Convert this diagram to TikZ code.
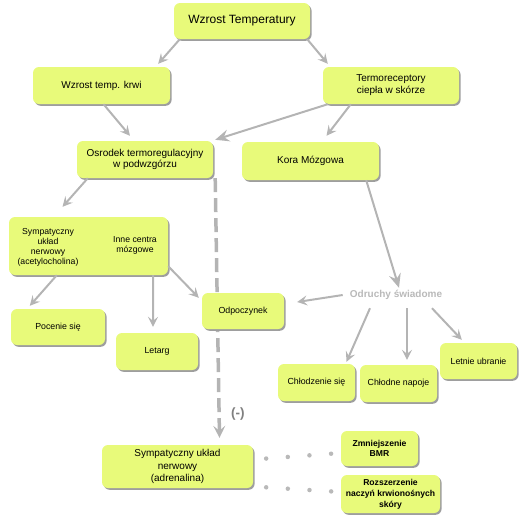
\documentclass[tikz,border=0pt]{standalone}
\usepackage{fontspec}
\setmainfont{Liberation Sans}
\usetikzlibrary{arrows.meta,shadows,backgrounds}
\definecolor{boxfill}{RGB}{232,250,122}
\definecolor{linegray}{RGB}{180,180,180}
\definecolor{textgray}{RGB}{185,185,185}
\newcommand{\fs}[2]{\fontsize{#1}{#2}\selectfont}

\begin{document}
\begin{tikzpicture}[x=1pt,y=-1pt,
  box/.style={fill=boxfill,rounded corners=6pt,align=center,inner sep=2pt,
    drop shadow={shadow xshift=1.6pt,shadow yshift=-1.8pt,fill=black!38,opacity=1}},
  arr/.style={draw=linegray,line width=2pt,-{Stealth[length=10pt,width=10pt,inset=4pt]}},
  bigarr/.style={arr,-{Stealth[length=14pt,width=12pt,inset=5pt]}},
  dotline/.style={draw=textgray,line width=4.5pt,line cap=round,dash pattern=on 0pt off 21.7pt}]
  \useasboundingbox (0,0) rectangle (520,520);
  \node[box,font=\fs{12}{14},minimum width=136pt,minimum height=36pt] (top) at (242,21) {Wzrost Temperatury};
  \node[box,font=\fs{10}{12},minimum width=137pt,minimum height=37pt] (krew) at (101.5,85.5) {Wzrost temp. krwi};
  \node[box,font=\fs{10}{12},minimum width=136pt,minimum height=37pt] (termo) at (391,85.5) {Termoreceptory\\ciepła w skórze};
  \node[box,font=\fs{10}{11.5},minimum width=136pt,minimum height=37pt] (osrodek) at (145,159.5) {Osrodek termoregulacyjny\\w podwzgórzu};
  \node[box,font=\fs{10}{12},minimum width=137pt,minimum height=38pt] (kora) at (310.5,161) {Kora Mózgowa};
  \node[box,minimum width=159pt,minimum height=58pt] (symp) at (88.5,246) {};
  \node[font=\fs{8.7}{10},align=center] (acet) at (48,247) {Sympatyczny\\układ\\nerwowy\\(acetylocholina)};
  \node[font=\fs{8.7}{10},align=center] (inne) at (135,245) {Inne centra\\mózgowe};
  \node[box,font=\fs{8.8}{10},minimum width=94pt,minimum height=36pt] (pocenie) at (58,327) {Pocenie się};
  \node[box,font=\fs{8.8}{10},minimum width=82pt,minimum height=37pt] (letarg) at (157,351.5) {Letarg};
  \node[box,font=\fs{8.8}{10},minimum width=82pt,minimum height=36pt] (odpoczynek) at (243,311) {Odpoczynek};
  \node[font=\bfseries\fs{10}{12},text=textgray,inner sep=0pt,minimum height=12pt] (odr) at (396,295) {Odruchy świadome};
  \node[box,font=\fs{8.8}{10},minimum width=77pt,minimum height=37pt] (chlodzenie) at (316.5,382.5) {Chłodzenie się};
  \node[box,font=\fs{8.8}{10},minimum width=77pt,minimum height=37pt] (napoje) at (398.5,383.5) {Chłodne napoje};
  \node[box,font=\fs{8.8}{10},minimum width=77pt,minimum height=36pt] (letnie) at (478.5,361) {Letnie ubranie};
  \node[box,font=\fs{10}{12.5},minimum width=151pt,minimum height=43pt] (sna) at (177.5,466.5) {Sympatyczny układ\\nerwowy\\(adrenalina)};
  \node[box,font=\bfseries\fs{8.6}{10},minimum width=77pt,minimum height=35pt] (bmr) at (379.5,448.5) {Zmniejszenie\\BMR};
  \node[box,font=\bfseries\fs{8.6}{11},minimum width=99pt,minimum height=38pt] (rozsz) at (390.5,494) {Rozszerzenie\\naczyń krwionośnych\\skóry};
  \draw[arr] ([xshift=6pt]top.south west) -- ([xshift=-12pt,yshift=3pt]krew.north east);
  \draw[arr] ([xshift=-3pt]top.south east) -- ([xshift=5pt,yshift=3pt]termo.north west);
  \draw[arr] ([xshift=2pt]krew.south) -- ([xshift=-15pt,yshift=5pt]osrodek.north);
  \draw[bigarr] ([xshift=5pt]termo.south west) -- ([xshift=2pt,yshift=1pt]osrodek.north east);
  \draw[arr] ([xshift=28pt]termo.south west) -- ([xshift=16pt,yshift=6pt]kora.north);
  \draw[arr] ([xshift=11pt]osrodek.south west) -- ([xshift=-26pt,yshift=10pt]symp.north);
  \begin{scope}[on background layer]
    \draw[draw=linegray,line width=3.5pt,dash pattern=on 14pt off 6pt,-{Stealth[length=12pt,width=12pt,inset=5pt]}]
      ([xshift=2pt]osrodek.south east) -- ([xshift=42pt,yshift=7pt]sna.north)
      node[pos=0.91,right=7pt,font=\bfseries\fs{13.5}{15},text=black!50] (minus) {(-)};
  \end{scope}
  \draw[bigarr] ([xshift=-13pt]kora.south east) -- ([xshift=3pt,yshift=1pt]odr.north);
  \draw[arr] ([xshift=-7pt]odr.west) -- ([xshift=13pt,yshift=9pt]odpoczynek.east);
  \draw[arr] ([xshift=-26pt,yshift=-7pt]odr.south) -- ([xshift=30pt,yshift=2pt]chlodzenie.north);
  \draw[arr] ([xshift=11pt,yshift=-7pt]odr.south) -- ([xshift=8.5pt,yshift=5pt]napoje.north);
  \draw[arr] ([xshift=36pt,yshift=-7pt]odr.south) -- ([xshift=22pt,yshift=3pt]letnie.north west);
  \draw[arr] ([xshift=48pt]symp.south west) -- ([xshift=19pt,yshift=3pt]pocenie.north west);
  \draw[arr] ([xshift=-15pt]symp.south east) -- ([xshift=-4pt,yshift=6pt]letarg.north);
  \draw[arr] ([yshift=9pt]symp.south east) -- ([xshift=-3pt,yshift=-5pt]odpoczynek.north west);
  \draw[dotline,shorten <=13pt,shorten >=8pt] ([yshift=7pt]sna.east) -- ([yshift=-4.5pt]bmr.west);
  \draw[dotline,shorten <=13pt,shorten >=8pt] ([yshift=-20pt]sna.east) -- ([yshift=2pt]rozsz.west);
\end{tikzpicture}
\end{document}
